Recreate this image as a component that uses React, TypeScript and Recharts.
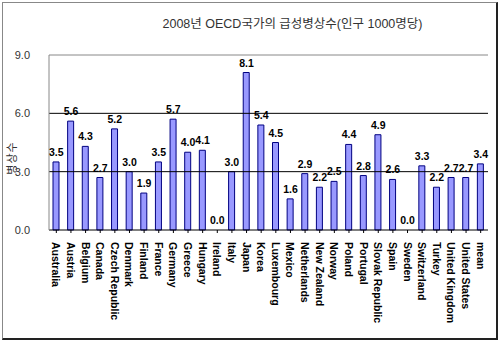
import React from 'react'
import { ComposedChart, Bar, Line, XAxis, YAxis, ReferenceLine, LabelList } from 'recharts'

const countries = [
  'Australia', 'Austria', 'Belgium', 'Canada', 'Czech Republic', 'Denmark', 'Finland', 'France',
  'Germany', 'Greece', 'Hungary', 'Ireland', 'Italy', 'Japan', 'Korea', 'Luxembourg', 'Mexico',
  'Netherlands', 'New Zealand', 'Norway', 'Poland', 'Portugal', 'Slovak Republic', 'Spain',
  'Sweden', 'Switzerland', 'Turkey', 'United Kingdom', 'United States', 'mean',
]
const beds = [
  3.5, 5.6, 4.3, 2.7, 5.2, 3.0, 1.9, 3.5, 5.7, 4.0, 4.1, 0.0, 3.0, 8.1, 5.4, 4.5, 1.6,
  2.9, 2.2, 2.5, 4.4, 2.8, 4.9, 2.6, 0.0, 3.3, 2.2, 2.7, 2.7, 3.4,
]
const yTicks = [0, 3, 6, 9]

const data = countries.map((name, i) => ({ name, value: beds[i] }))

const FONT = '"Liberation Sans", "Noto Sans CJK KR", sans-serif'

const CountryTick = (props: any) => {
  const { x, y, payload } = props
  return (
    <text
      transform={`translate(${x},${y + 7}) rotate(90)`}
      textAnchor="start"
      dominantBaseline="central"
      fontSize={10.5}
      fontWeight="bold"
      fontFamily={FONT}
      fill="#000"
    >
      {payload.value}
    </text>
  )
}

export default function App() {
  return (
    <div style={{ position: 'absolute', left: 0, top: 0, width: 500, height: 342, background: '#fff' }}>
      <div
        style={{
          position: 'absolute', left: 2, top: 2, width: 496, height: 338,
          boxSizing: 'border-box', borderLeft: '1px solid #888', borderTop: '1px solid #888',
          borderRight: '2px solid #222', borderBottom: '2px solid #222',
        }}
      />
      <div
        style={{
          position: 'absolute', left: 0, top: 13, width: 585, textAlign: 'center',
          fontFamily: FONT, fontSize: 12.5, color: '#333',
        }}
      >
        2008년 OECD국가의 급성병상수(인구 1000명당)
      </div>
      <div
        style={{
          position: 'absolute', left: 11, top: 158, transform: 'translate(-50%,-50%) rotate(-90deg)',
          fontFamily: FONT, fontSize: 11, letterSpacing: 1, color: '#333', whiteSpace: 'nowrap',
        }}
      >
        병상수
      </div>
      <ComposedChart
        width={500}
        height={342}
        data={data}
        margin={{ top: 55, right: 12, left: 0, bottom: 0 }}
        style={{ position: 'absolute', left: 0, top: 0 }}
      >
        <XAxis
          dataKey="name"
          interval={0}
          height={112}
          axisLine={{ stroke: '#000' }}
          tickLine={{ stroke: '#000' }}
          tickSize={3}
          tick={<CountryTick />}
        />
        <YAxis
          yAxisId="l"
          width={49}
          domain={[0, 9]}
          ticks={yTicks}
          tickFormatter={(v: number) => v.toFixed(1)}
          axisLine={{ stroke: '#888' }}
          tickLine={false}
          tickMargin={13}
          tick={{ fontSize: 11, fill: '#333', fontFamily: FONT }}
        />
        <YAxis
          yAxisId="r"
          orientation="right"
          width={0}
          domain={[0, 9]}
          tick={false}
          tickLine={false}
          axisLine={{ stroke: '#888' }}
        />
        <ReferenceLine yAxisId="l" y={9} stroke="#888" />
        <ReferenceLine yAxisId="l" y={6} stroke="#000" />
        <ReferenceLine yAxisId="l" y={3} stroke="#000" />
        <Bar
          yAxisId="l"
          dataKey="value"
          barSize={6}
          fill="#9999ff"
          stroke="#000080"
          strokeWidth={1}
          isAnimationActive={false}
        />
        <Line
          yAxisId="l"
          dataKey="value"
          stroke="none"
          dot={false}
          activeDot={false}
          isAnimationActive={false}
        >
          <LabelList
            dataKey="value"
            position="top"
            offset={6}
            formatter={(v: any) => Number(v).toFixed(1)}
            style={{ fontSize: 10.5, fontWeight: 'bold', fill: '#000', fontFamily: FONT }}
          />
        </Line>
      </ComposedChart>
    </div>
  )
}
